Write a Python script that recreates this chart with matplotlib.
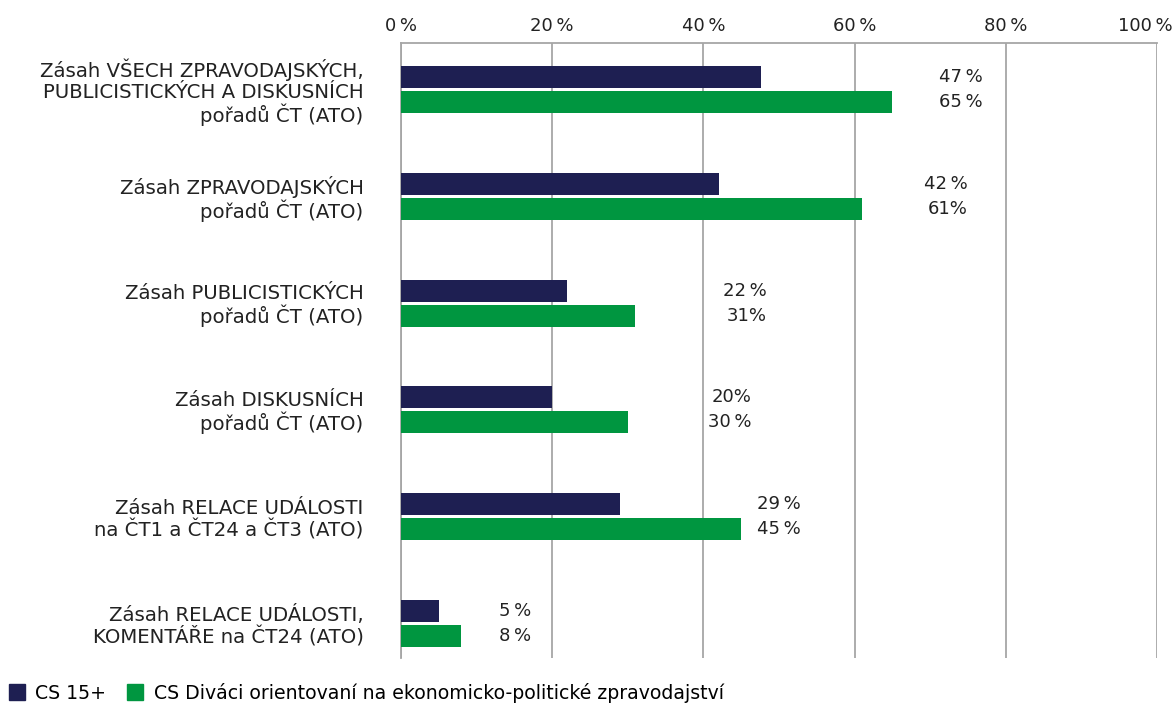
import matplotlib.pyplot as plt
from matplotlib.patches import Patch
from matplotlib.transforms import ScaledTranslation
import numpy as np

# Kategorie a hodnoty
categories = [
    "Zásah VŠECH ZPRAVODAJSKÝCH,\nPUBLICISTICKÝCH A DISKUSNÍCH\npořadů ČT (ATO)",
    "Zásah ZPRAVODAJSKÝCH\npořadů ČT (ATO)",
    "Zásah PUBLICISTICKÝCH\npořadů ČT (ATO)",
    "Zásah DISKUSNÍCH\npořadů ČT (ATO)",
    "Zásah RELACE UDÁLOSTI\nna ČT1 a ČT24 a ČT3 (ATO)",
    "Zásah RELACE UDÁLOSTI,\nKOMENTÁŘE na ČT24 (ATO)",
]
cs15 = [47.6, 42, 22, 20, 29, 5]
cs_ekon = [65, 61, 31, 30, 45, 8]
cs15_text = ["47\u2009%", "42\u2009%", "22\u2009%", "20%", "29\u2009%", "5\u2009%"]
cs_ekon_text = ["65\u2009%", "61%", "31%", "30\u2009%", "45\u2009%", "8\u2009%"]
# pozice popisků (v % osy x, zarovnání vpravo)
label_x = [76.9, 75.0, 48.4, 46.3, 52.9, 17.2]
xticks = [0, 20, 40, 60, 80, 100]
series_names = ["CS 15+", "CS Diváci orientovaní na ekonomicko-politické zpravodajství"]

navy = "#1e1f52"
green = "#009640"
grid_c = "#a6a6a6"
text_c = "#222222"
fs = 14.2

plt.rcParams['font.family'] = ['DejaVu Sans']

fig = plt.figure(figsize=(11.76, 7.04), dpi=100)
ax = fig.add_axes([0.341, 0.0653, 0.6428, 0.8736])

y = np.arange(len(categories))
h = 0.206
off = 0.117
ax.barh(y - off, cs15, height=h, color=navy, zorder=3)
ax.barh(y + off, cs_ekon, height=h, color=green, zorder=3)

for i in range(len(categories)):
    ax.text(label_x[i], y[i] - off, cs15_text[i], ha='right', va='center',
            fontsize=13, color=text_c)
    ax.text(label_x[i], y[i] + off, cs_ekon_text[i], ha='right', va='center',
            fontsize=13, color=text_c)

ax.set_xlim(0, 100)
ax.set_ylim(5.323, -0.435)
ax.set_xticks(xticks)
ax.set_xticklabels([f"{t}\u2009%" for t in xticks], fontsize=13, color=text_c)
ax.xaxis.tick_top()
ax.tick_params(axis='x', length=0, pad=6)
# posunout poslední popisek doleva, aby se vešel
last = ax.get_xticklabels()[-1]
last.set_transform(last.get_transform() + ScaledTranslation(-0.12, 0, fig.dpi_scale_trans))

ax.set_yticks(y)
ax.set_yticklabels(categories, fontsize=fs, color=text_c, linespacing=1.08)
ax.tick_params(axis='y', length=0, pad=27)

ax.grid(axis='x', color=grid_c, linewidth=1.3, zorder=0)
for s in ['right', 'bottom']:
    ax.spines[s].set_visible(False)
for s in ['top', 'left']:
    ax.spines[s].set_color(grid_c)
    ax.spines[s].set_linewidth(1.3)

handles = [Patch(color=navy), Patch(color=green)]
fig.legend(handles, series_names, loc='lower left', bbox_to_anchor=(-0.002, -0.014),
           ncol=2, frameon=False, fontsize=13.6, handlelength=0.85, handleheight=0.85,
           handletextpad=0.55, columnspacing=1.1, borderaxespad=0.2)

fig.savefig("out.png", dpi=100)
